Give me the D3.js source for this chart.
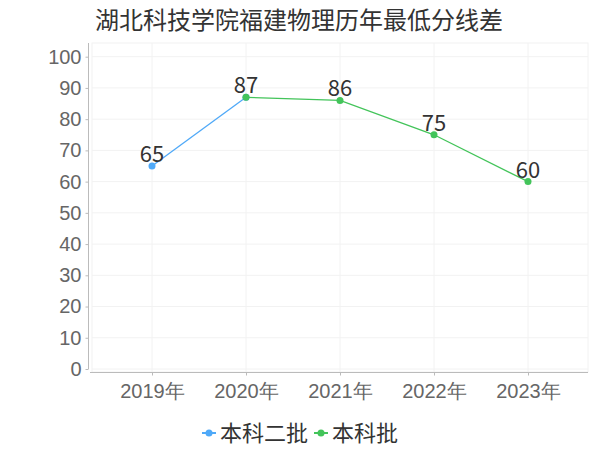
<!DOCTYPE html>
<html><head><meta charset="utf-8">
<script src="https://cdn.jsdelivr.net/npm/d3@7"></script>
<style>body{margin:0;background:#fff;}svg{display:block;font-family:"Noto Sans CJK SC","Noto Sans",sans-serif;}</style>
</head><body><svg id="c" width="600" height="450"></svg>
<script>
const title = "湖北科技学院福建物理历年最低分线差";
const categories = ["2019年","2020年","2021年","2022年","2023年"];
const seriesNames = ["本科二批","本科批"];
const seriesColors = ["#4fa9f8","#43c45a"];
const series1 = [65, 87, null, null, null];
const series2 = [null, 87, 86, 75, 60];
const yTicks = [0,10,20,30,40,50,60,70,80,90,100];

const svg = d3.select("#c");
const plot = {l:92, r:588, t:43, b:372};
const x = d3.scalePoint().domain(categories).range([152, 528]);
const y = d3.scaleLinear().domain([0,100]).range([369, 56.7]);

// title
svg.append("text").attr("x",299).attr("y",20).attr("dy","0.36em").attr("text-anchor","middle")
  .attr("font-size",24).attr("fill","#333").text(title);

// grid
const g = svg.append("g");
g.append("rect").attr("x",plot.l).attr("y",plot.t).attr("width",plot.r-plot.l).attr("height",plot.b-plot.t)
  .attr("fill","none").attr("stroke","#f2f2f2");
g.selectAll("line.h").data(yTicks).join("line").attr("class","h")
  .attr("x1",plot.l).attr("x2",plot.r).attr("y1",d=>y(d)).attr("y2",d=>y(d))
  .attr("stroke","#f2f2f2");
g.selectAll("line.v").data(categories).join("line").attr("class","v")
  .attr("x1",d=>x(d)).attr("x2",d=>x(d)).attr("y1",plot.t).attr("y2",plot.b)
  .attr("stroke","#f2f2f2");

// y axis
const ya = svg.append("g").attr("transform","translate(88.5,0)")
  .call(d3.axisLeft(y).tickValues(yTicks).tickSize(3).tickPadding(4).tickSizeOuter(0));
ya.select(".domain").attr("stroke","#bbb").attr("d",`M0,${plot.t}V${y(0)}`);
ya.selectAll(".tick line").attr("stroke","#bbb");
ya.selectAll(".tick text").attr("font-size",20).attr("fill","#666").attr("font-family",null);

// x axis
const xa = svg.append("g").attr("transform",`translate(0,${plot.b+0.5})`)
  .call(d3.axisBottom(x).tickSize(3).tickPadding(8).tickSizeOuter(0));
xa.select(".domain").attr("stroke","#bbb").attr("d",`M90,0H${plot.r}`);
xa.selectAll(".tick line").attr("stroke","#bbb");
xa.selectAll(".tick text").attr("font-size",20).attr("fill","#666").attr("font-family",null);

// lines
const line = d3.line().defined(d=>d.v!=null).x(d=>x(d.c)).y(d=>y(d.v));
[series1, series2].forEach((s,i)=>{
  const data = categories.map((c,j)=>({c, v:s[j]}));
  svg.append("path").datum(data).attr("d",line).attr("fill","none")
    .attr("stroke",seriesColors[i]).attr("stroke-width",1.3);
  svg.selectAll(null).data(data.filter(d=>d.v!=null)).join("circle")
    .attr("cx",d=>x(d.c)).attr("cy",d=>y(d.v)).attr("r",3.5).attr("fill",seriesColors[i]);
});
// labels (one per category)
const labelData = categories.map((c,j)=>({c, v: series2[j]!=null ? series2[j] : series1[j]}));
svg.selectAll("text.lbl").data(labelData).join("text").attr("class","lbl")
  .attr("x",d=>x(d.c)).attr("y",d=>y(d.v)-12).attr("dy","0.36em").attr("text-anchor","middle")
  .attr("font-size",22).attr("fill","#333").text(d=>d.v);

// legend
const lg = svg.append("g").attr("transform","translate(0,433)");
const items = [{x:202, tx:220},{x:314, tx:332}];
seriesNames.forEach((n,i)=>{
  const it = items[i];
  lg.append("line").attr("x1",it.x).attr("x2",it.x+14).attr("y1",0).attr("y2",0)
    .attr("stroke",seriesColors[i]).attr("stroke-width",2);
  lg.append("circle").attr("cx",it.x+7).attr("cy",0).attr("r",3.5).attr("fill",seriesColors[i]);
  lg.append("text").attr("x",it.tx).attr("y",0).attr("dy","0.36em")
    .attr("font-size",22).attr("fill","#333").text(n);
});
</script></body></html>
